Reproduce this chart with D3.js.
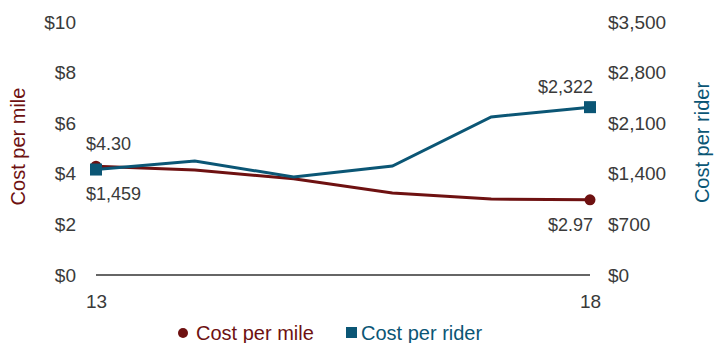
<!DOCTYPE html>
<html>
<head>
<meta charset="utf-8">
<script src="https://cdn.jsdelivr.net/npm/d3@7"></script>
<style>
  body { margin: 0; background: #fff; }
  text { font-family: "Liberation Sans", Arial, sans-serif; }
</style>
</head>
<body>
<svg id="chart"></svg>
<script>
// data
const years = [13, 14, 15, 16, 17, 18]
const costPerMile = [4.30, 4.15, 3.80, 3.24, 3.00, 2.97]
const costPerRider = [1459, 1577, 1356, 1508, 2186, 2322]
const leftTicks = [0, 2, 4, 6, 8, 10]
const rightTicks = [0, 700, 1400, 2100, 2800, 3500]
const xTickLabels = [13, 18]

const mileColor = '#6e1111'
const riderColor = '#0b5675'
const textColor = '#3a3a3a'

const width = 726, height = 343
const margin = {top: 22, right: 136, bottom: 68, left: 96}
const innerW = width - margin.left - margin.right
const innerH = height - margin.top - margin.bottom

const svg = d3.select('#chart').attr('width', width).attr('height', height)
const chart = svg.append('g').attr('transform', `translate(${margin.left},${margin.top})`)

const xScale = d3.scaleLinear().domain([13, 18]).range([0, innerW])
const yLeft = d3.scaleLinear().domain([0, 10]).range([innerH, 0])
const yRight = d3.scaleLinear().domain([0, 3500]).range([innerH, 0])

// axes (no lines, only labels)
const leftAxis = d3.axisLeft(yLeft).tickValues(leftTicks).tickSize(0).tickPadding(20)
    .tickFormat(d => '$' + d)
const rightAxis = d3.axisRight(yRight).tickValues(rightTicks).tickSize(0).tickPadding(18)
    .tickFormat(d => '$' + d3.format(',')(d))
const bottomAxis = d3.axisBottom(xScale).tickValues(xTickLabels).tickSize(0).tickPadding(20)
    .tickFormat(d => d)

const styleAxis = g => {
    g.select('.domain').remove()
    g.selectAll('text').attr('fill', textColor).style('font-size', '19px')
        .style('font-family', '"Liberation Sans", Arial, sans-serif')
}

chart.append('g').call(leftAxis).call(styleAxis)
chart.append('g').attr('transform', `translate(${innerW},0)`).call(rightAxis).call(styleAxis)
chart.append('g').attr('transform', `translate(0,${innerH})`).call(bottomAxis).call(styleAxis)

// baseline
chart.append('line')
    .attr('x1', 0).attr('x2', innerW)
    .attr('y1', yLeft(0)).attr('y2', yLeft(0))
    .attr('stroke', '#333').attr('stroke-width', 1.5)

// axis titles
svg.append('text')
    .attr('transform', `translate(25,${margin.top + innerH / 2 - 2}) rotate(-90)`)
    .attr('text-anchor', 'middle')
    .attr('fill', mileColor)
    .style('font-size', '20px')
    .text('Cost per mile')

svg.append('text')
    .attr('transform', `translate(709,${margin.top + innerH / 2 - 6}) rotate(-90)`)
    .attr('text-anchor', 'middle')
    .attr('fill', riderColor)
    .style('font-size', '20px')
    .text('Cost per rider')

// lines
const mileLine = d3.line().x((d, i) => xScale(years[i])).y(d => yLeft(d))
const riderLine = d3.line().x((d, i) => xScale(years[i])).y(d => yRight(d))

chart.append('path').datum(costPerMile)
    .attr('d', mileLine).attr('fill', 'none')
    .attr('stroke', mileColor).attr('stroke-width', 3)

chart.append('path').datum(costPerRider)
    .attr('d', riderLine).attr('fill', 'none')
    .attr('stroke', riderColor).attr('stroke-width', 3)

// end markers
const last = years.length - 1
chart.selectAll('.mile-dot')
    .data([0, last])
    .join('circle')
        .attr('class', 'mile-dot')
        .attr('cx', i => xScale(years[i]))
        .attr('cy', i => yLeft(costPerMile[i]))
        .attr('r', 5.5)
        .attr('fill', mileColor)

chart.selectAll('.rider-sq')
    .data([0, last])
    .join('rect')
        .attr('class', 'rider-sq')
        .attr('x', i => xScale(years[i]) - 6)
        .attr('y', i => yRight(costPerRider[i]) - 6)
        .attr('width', 12).attr('height', 12)
        .attr('fill', riderColor)

// value labels
const labelStyle = sel => sel.attr('fill', textColor).style('font-size', '18px')

chart.append('text').call(labelStyle)
    .attr('x', xScale(years[0]) - 10).attr('y', yLeft(costPerMile[0]) - 16)
    .text('$' + costPerMile[0].toFixed(2))
chart.append('text').call(labelStyle)
    .attr('x', xScale(years[0]) - 10).attr('y', yRight(costPerRider[0]) + 30)
    .text('$' + d3.format(',')(costPerRider[0]))
chart.append('text').call(labelStyle)
    .attr('text-anchor', 'end')
    .attr('x', xScale(years[last]) + 3).attr('y', yRight(costPerRider[last]) - 14)
    .text('$' + d3.format(',')(costPerRider[last]))
chart.append('text').call(labelStyle)
    .attr('text-anchor', 'end')
    .attr('x', xScale(years[last]) + 3).attr('y', yLeft(costPerMile[last]) + 31)
    .text('$' + costPerMile[last].toFixed(2))

// legend
const legend = svg.append('g').attr('transform', 'translate(0,333)')
legend.append('circle').attr('cx', 183).attr('cy', 0).attr('r', 5).attr('fill', mileColor)
legend.append('text').attr('x', 196).attr('y', 7)
    .attr('fill', mileColor).style('font-size', '20px').text('Cost per mile')
legend.append('rect').attr('x', 346).attr('y', -6).attr('width', 11).attr('height', 11).attr('fill', riderColor)
legend.append('text').attr('x', 361).attr('y', 7)
    .attr('fill', riderColor).style('font-size', '20px').text('Cost per rider')
</script>
</body>
</html>
